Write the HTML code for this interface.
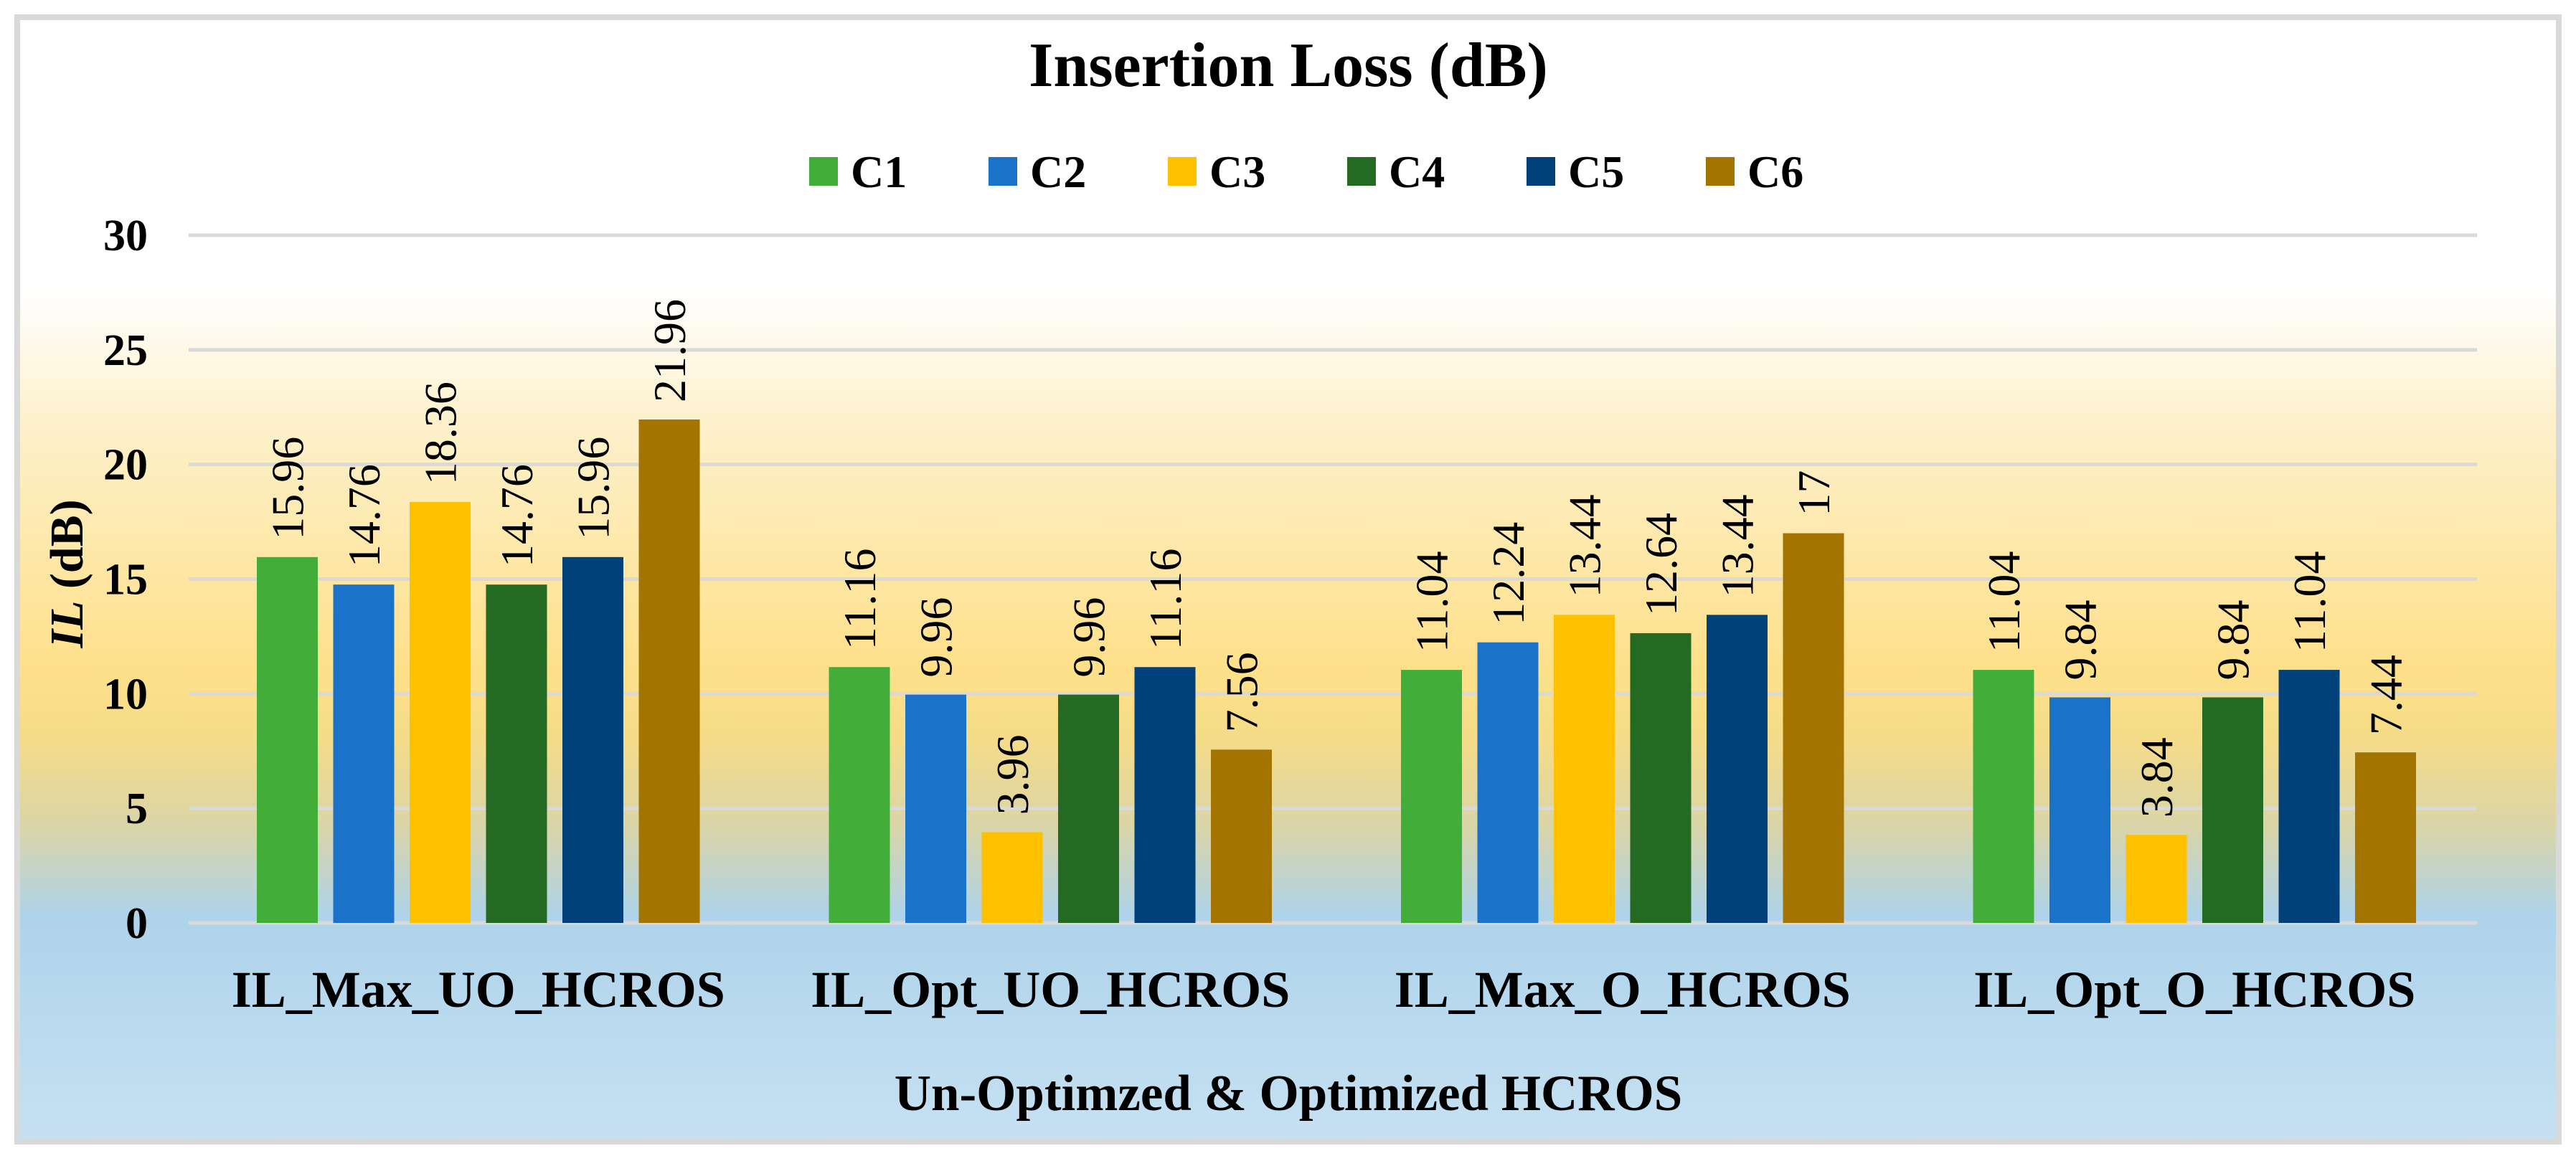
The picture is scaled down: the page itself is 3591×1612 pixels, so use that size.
<!DOCTYPE html>
<html><head><meta charset="utf-8"><style>
html,body{margin:0;padding:0;background:#fff;}
svg{display:block;font-family:"Liberation Serif",serif;}
</style></head><body>
<svg id="chart" width="3591" height="1612" viewBox="0 0 3591 1612" xmlns="http://www.w3.org/2000/svg">
<defs>
<linearGradient id="bg" x1="0" y1="0" x2="0" y2="1">
<stop offset="0" stop-color="#ffffff"/>
<stop offset="0.24" stop-color="#ffffff"/>
<stop offset="0.36" stop-color="#fdf1cc"/>
<stop offset="0.58" stop-color="#fee08a"/>
<stop offset="0.64" stop-color="#f6dc88"/>
<stop offset="0.72" stop-color="#d9d5a8"/>
<stop offset="0.8" stop-color="#aed3ea"/>
<stop offset="1" stop-color="#c7e1f3"/>
</linearGradient>
</defs>
<rect x="24" y="24" width="3543" height="1568" fill="url(#bg)" stroke="#d9d9d9" stroke-width="8"/>
<text x="1796" y="120" text-anchor="middle" font-size="88" font-weight="bold">Insertion Loss (dB)</text>
<g id="legend"></g>
<g id="grid"></g>
<g id="yticks"></g>
<g id="bars"></g>
<g id="xlabels"></g>
<text transform="translate(115,800) rotate(-90)" text-anchor="middle" font-size="66" font-weight="bold"><tspan font-style="italic">IL</tspan> (dB)</text>
<text x="1796" y="1548" text-anchor="middle" font-size="71" font-weight="bold">Un-Optimzed &amp; Optimized HCROS</text>
</svg>
<script>
const categories = ["IL_Max_UO_HCROS","IL_Opt_UO_HCROS","IL_Max_O_HCROS","IL_Opt_O_HCROS"];
const seriesNames = ["C1","C2","C3","C4","C5","C6"];
const seriesColors = ["#43ad3a","#1a73c9","#ffc000","#256a23","#004179","#a37400"];
const C1 = [15.96, 11.16, 11.04, 11.04];
const C2 = [14.76, 9.96, 12.24, 9.84];
const C3 = [18.36, 3.96, 13.44, 3.84];
const C4 = [14.76, 9.96, 12.64, 9.84];
const C5 = [15.96, 11.16, 13.44, 11.04];
const C6 = [21.96, 7.56, 17, 7.44];
const yTicks = [0,5,10,15,20,25,30];

const series = [C1,C2,C3,C4,C5,C6];
const NS = "http://www.w3.org/2000/svg";
const plotL = 263, plotR = 3453, y0 = 1287, y30 = 328;
const yMax = 30;
function yS(v){ return y0 - (v / yMax) * (y0 - y30); }
const catW = (plotR - plotL) / categories.length;
const barW = 85, pitch = 106.5;
function xBar(ci, si){
  const c = plotL + catW * (ci + 0.5);
  return c - (pitch * (series.length - 1) + barW) / 2 + si * pitch + 5;
}
function mk(tag, attrs, parent){
  const e = document.createElementNS(NS, tag);
  for (const k in attrs) e.setAttribute(k, attrs[k]);
  parent.appendChild(e);
  return e;
}
const grid = document.getElementById('grid');
const yt = document.getElementById('yticks');
yTicks.forEach(t => {
  const l = mk('line', {x1: plotL, x2: plotR, y1: yS(t), y2: yS(t), stroke: '#d9d9d9', 'stroke-width': 5}, grid);
  
  
  const tx = mk('text', {x: 206, y: yS(t) + 21, 'text-anchor': 'end', 'font-size': 62, 'font-weight': 'bold'}, yt);
  tx.textContent = t;
  
  
});
const bars = document.getElementById('bars');
series.forEach((s, si) => {
  s.forEach((v, ci) => {
    const x = xBar(ci, si);
    const r = mk('rect', {x: x, y: yS(v), width: barW, height: yS(0) - yS(v), fill: seriesColors[si]}, bars);
    
    
    const cx = x + barW / 2 + 22, cy = yS(v) - 24;
    const lb = mk('text', {x: 0, y: 0, transform: 'translate(' + cx + ',' + cy + ') rotate(-90)', 'font-size': 64}, bars);
    lb.textContent = String(v);
    
    
  });
});
const xl = document.getElementById('xlabels');
categories.forEach((c, ci) => {
  const t = mk('text', {x: plotL + catW * (ci + 0.5) + 5, y: 1404, 'text-anchor': 'middle', 'font-size': 72, 'font-weight': 'bold'}, xl);
  t.textContent = c;
  
  
});
const lg = document.getElementById('legend');
seriesNames.forEach((n, i) => {
  const x = 1128 + i * 250;
  const g = mk('g', {}, lg);
  
  
  mk('rect', {x: x, y: 219, width: 40, height: 40, fill: seriesColors[i]}, g);
  const t = mk('text', {x: x + 58, y: 261, 'font-size': 64, 'font-weight': 'bold'}, g);
  t.textContent = n;
});
</script>
</body></html>
